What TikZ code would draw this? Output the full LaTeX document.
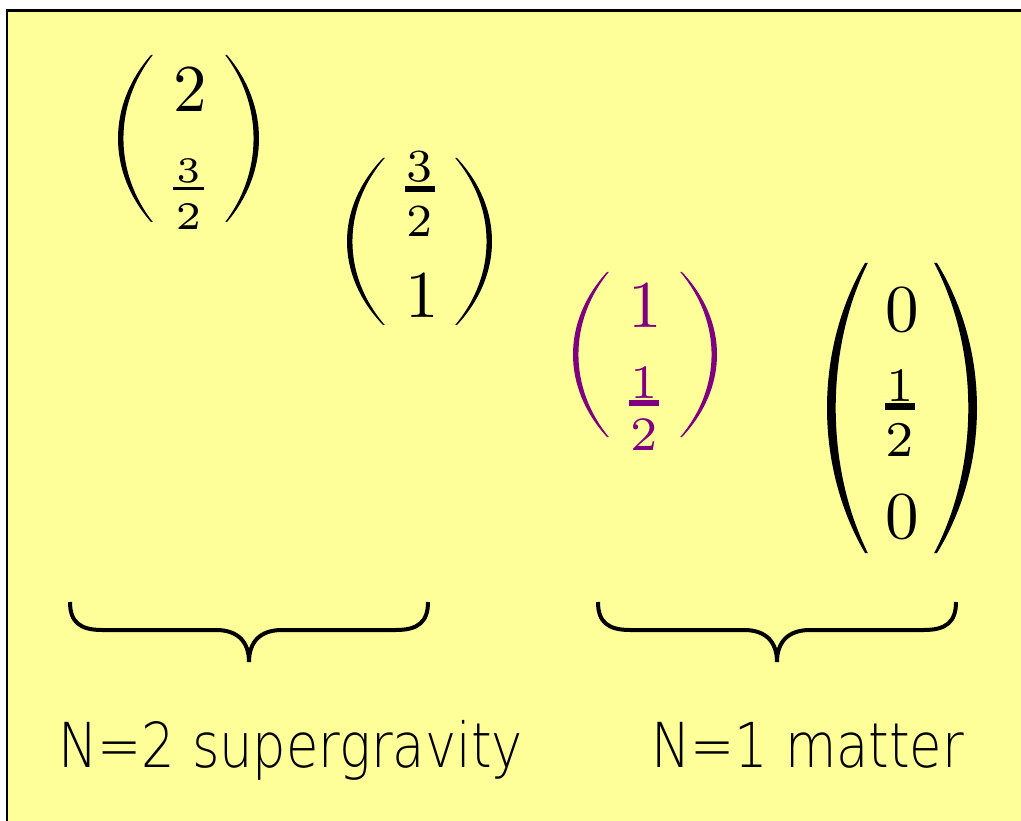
\documentclass[tikz,border=0pt]{standalone}
\usepackage{fontspec}
\newfontfamily\labfont[FakeStretch=0.85]{DejaVu Sans ExtraLight}
\newfontfamily\digfont{lmroman10-regular.otf}
\newfontfamily\fracfont{lmroman7-regular.otf}
\newfontfamily\smallfracfont{lmroman5-regular.otf}
\definecolor{bgyellow}{HTML}{FFFF99}
\definecolor{mpurple}{HTML}{800080}
\newcommand\mkparen[5]{% #1 end x, #2 mid x, #3 top y, #4 bottom y, #5 signed thickness
  \pgfmathsetmacro\PPc{#1-4/3*(#1-#2)}%
  \pgfmathsetmacro\PPci{\PPc+4/3*(#5)}%
  \pgfmathsetmacro\PPe{#1+0.35*(#5)}%
  \pgfmathsetmacro\PPya{#3+0.3*(#4-#3)}%
  \pgfmathsetmacro\PPyb{#4-0.3*(#4-#3)}%
  \fill (#1,#3) .. controls (\PPc,\PPya) and (\PPc,\PPyb) .. (#1,#4)
    -- (\PPe,#4) .. controls (\PPci,\PPyb) and (\PPci,\PPya) .. (\PPe,#3) -- cycle;}
\tikzset{
  dig/.style={inner sep=0pt, anchor=base, font=\digfont\fontsize{67}{80}\selectfont},
  frac/.style={inner sep=0pt, anchor=base, font=\fracfont\fontsize{#1}{#1}\selectfont},
  sfrac/.style={inner sep=0pt, anchor=base, font=\smallfracfont\fontsize{#1}{#1}\selectfont},
  lab/.style={inner sep=0pt, anchor=base west, font=\labfont\fontsize{62}{70}\selectfont},
  brc/.pic={
    \draw[line width=4pt] (0,0) .. controls (0,20) and (10,28) .. (32,28) -- (146,28)
      .. controls (168,28) and (179,40) .. (179,60);
    \draw[line width=4pt] (358,0) .. controls (358,20) and (348,28) .. (326,28) -- (212,28)
      .. controls (190,28) and (179,40) .. (179,60);
  }
}
\begin{document}
\begin{tikzpicture}[x=1pt,y=-1pt]
\useasboundingbox (0,0) rectangle (1021,821);
\fill[white] (0,0) rectangle (1021,821);
\fill[bgyellow] (7,10.5) rectangle (1022,822);
\draw[line width=2.5pt] (7,822) -- (7,10.5) -- (1022,10.5);

% matrix 1
\mkparen{151}{118}{55}{222}{5}
\mkparen{227}{259}{55}{222}{-5}
\node[dig] (m1a) at (190,112) {2};
\node[sfrac=36] (m1n) at (189,183) {3};
\fill (173,187) rectangle (204,190.5);
\node[sfrac=39] (m1d) at (189,230) {2};

% matrix 2
\mkparen{383}{347}{158}{325}{5}
\mkparen{457}{492}{158}{325}{-5}
\node[frac=46] (m2n) at (420,182) {3};
\fill (405,186) rectangle (435,192);
\node[frac=46] (m2d) at (420,237) {2};
\node[dig] (m2a) at (422,318) {1};

% matrix 3 (purple)
\begin{scope}[mpurple]
\mkparen{607}{573}{272}{437}{5}
\mkparen{682}{717}{272}{437}{-5}
\node[dig, text=mpurple] (m3a) at (645,327) {1};
\node[frac=48, text=mpurple] (m3n) at (644,398) {1};
\fill (629,400) rectangle (659,406);
\node[frac=48, text=mpurple] (m3d) at (644,450) {2};
\end{scope}

% matrix 4
\mkparen{865}{827}{263}{553}{8}
\mkparen{937}{977}{263}{553}{-8}
\node[dig] (m4a) at (902,332) {0};
\node[frac=48] (m4n) at (900,401) {1};
\fill (885,403) rectangle (915,410);
\node[frac=50] (m4d) at (900,456) {2};
\node[dig] (m4b) at (902,538) {0};

% braces
\pic at (70,602) {brc};
\pic at (598,602) {brc};

% labels
\node[lab] (l1) at (58,767) {N=2 supergravity};
\node[lab] (l2) at (651,767) {N=1 matter};
\end{tikzpicture}
\end{document}
